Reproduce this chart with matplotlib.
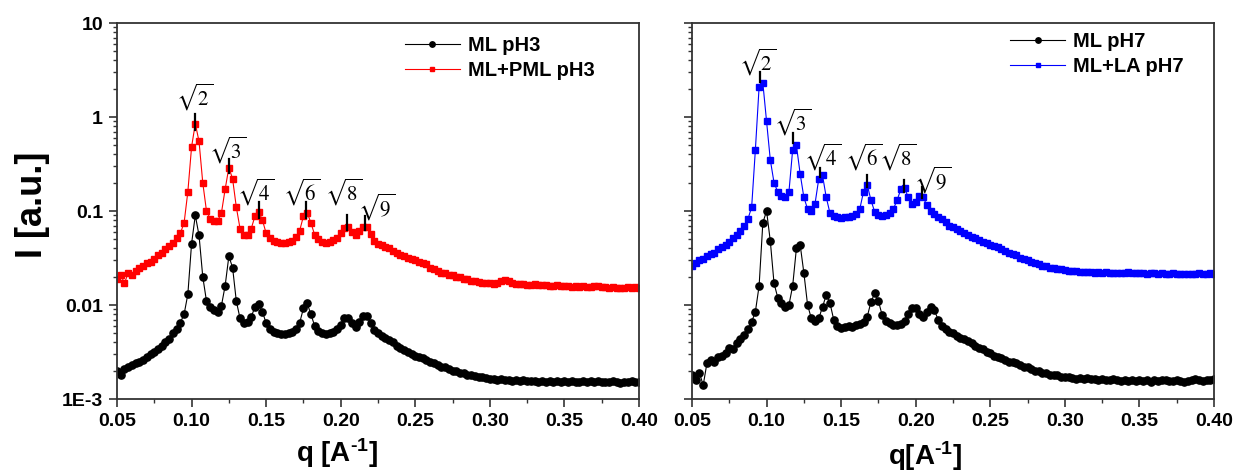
import numpy as np
import matplotlib
matplotlib.use("Agg")
import matplotlib.pyplot as plt
from matplotlib.ticker import FixedLocator, LogLocator, NullFormatter, MultipleLocator, FuncFormatter

plt.rcParams['font.family'] = ['Liberation Sans', 'DejaVu Sans']
plt.rcParams['font.weight'] = 'normal'
plt.rcParams['mathtext.fontset'] = 'custom'
plt.rcParams['mathtext.rm'] = 'Liberation Sans:bold'
plt.rcParams['mathtext.bf'] = 'Liberation Sans:bold'
plt.rcParams['mathtext.it'] = 'Liberation Sans:bold:italic'
plt.rcParams['mathtext.sf'] = 'Liberation Sans:bold'

# ---------------- data ----------------
q_start, q_step = 0.05, 0.0025

ml_ph3 = [
    0.0020, 0.0018, 0.0021, 0.0022, 0.0023, 0.0024, 0.0025, 0.0026, 0.0028, 0.0030,
    0.0032, 0.0034, 0.0037, 0.0040, 0.0044, 0.0050, 0.0056, 0.0065, 0.0080, 0.0130,
    0.045, 0.090, 0.055, 0.020, 0.0110, 0.0095, 0.0088, 0.0085, 0.0098, 0.016,
    0.033, 0.025, 0.011, 0.0072, 0.0064, 0.0066, 0.0075, 0.0095, 0.0102, 0.0085,
    0.0064, 0.0056, 0.0052, 0.0050, 0.0049, 0.0049, 0.0050, 0.0051, 0.0056, 0.0065,
    0.0092, 0.0104, 0.0080, 0.0060, 0.0053, 0.0050, 0.0049, 0.0050, 0.0052, 0.0055,
    0.0062, 0.0072, 0.0073, 0.0064, 0.0059, 0.0066, 0.0077, 0.0076, 0.0064, 0.0054,
    0.0050, 0.0047, 0.0045, 0.0042, 0.0040, 0.0037, 0.0035, 0.0033, 0.0032, 0.0030,
    0.0029, 0.0028, 0.0027, 0.0026, 0.0025, 0.0024, 0.0023, 0.0022, 0.0022, 0.0021,
    0.0020, 0.0020, 0.0019, 0.0019, 0.0018, 0.0018, 0.00175, 0.0017, 0.0017, 0.00168,
    0.00165,
    0.00163, 0.00160, 0.00162, 0.00158, 0.00160, 0.00157, 0.00159, 0.00155, 0.00158, 0.00156,
    0.00154, 0.00157, 0.00153, 0.00156, 0.00152, 0.00155, 0.00153, 0.00156, 0.00150, 0.00154,
    0.00152, 0.00155, 0.00151, 0.00153, 0.00155, 0.00150, 0.00154, 0.00152, 0.00156, 0.00151,
    0.00153, 0.00150, 0.00154, 0.00152, 0.00149, 0.00153, 0.00151, 0.00155, 0.00150, 0.00152,
]

ml_pml_ph3 = [
    0.019, 0.021, 0.017, 0.022, 0.021, 0.023, 0.025, 0.026, 0.028, 0.029,
    0.031, 0.034, 0.036, 0.039, 0.042, 0.046, 0.051, 0.058, 0.075, 0.16,
    0.48, 0.85, 0.55, 0.20, 0.100, 0.083, 0.078, 0.079, 0.095, 0.17,
    0.29, 0.22, 0.11, 0.065, 0.055, 0.056, 0.065, 0.088, 0.098, 0.080,
    0.058, 0.051, 0.048, 0.047, 0.046, 0.046, 0.047, 0.048, 0.053, 0.062,
    0.088, 0.096, 0.075, 0.056, 0.050, 0.047, 0.046, 0.047, 0.049, 0.052,
    0.058, 0.066, 0.068, 0.060, 0.056, 0.061, 0.068, 0.067, 0.057, 0.048,
    0.045, 0.043, 0.041, 0.040, 0.038, 0.036, 0.034, 0.033, 0.032, 0.031,
    0.030, 0.029, 0.028, 0.027, 0.025, 0.024, 0.023, 0.022, 0.022, 0.021,
    0.021, 0.020, 0.020, 0.019, 0.019, 0.018, 0.018, 0.0175, 0.0172, 0.017,
    0.017,
    0.0169, 0.0172, 0.0180, 0.0185, 0.0178, 0.0170, 0.0168, 0.0166, 0.0167, 0.0165,
    0.0164, 0.0166, 0.0163, 0.0162, 0.0164, 0.0161, 0.0160, 0.0162, 0.0159, 0.0158,
    0.0160, 0.0157, 0.0158, 0.0156, 0.0159, 0.0157, 0.0155, 0.0158, 0.0160, 0.0156,
    0.0154, 0.0152, 0.0155, 0.0150, 0.0153, 0.0151, 0.0154, 0.0152, 0.0155, 0.0153,
]

ml_ph7 = [
    0.0018, 0.0016, 0.0019, 0.0014, 0.0024, 0.0026, 0.0025, 0.0028, 0.0029, 0.0031,
    0.0035, 0.0034, 0.0039, 0.0043, 0.0048, 0.0055, 0.0066, 0.0085, 0.016, 0.075,
    0.100, 0.048, 0.017, 0.0120, 0.0105, 0.0096, 0.0100, 0.016, 0.040, 0.044,
    0.022, 0.0100, 0.0072, 0.0068, 0.0072, 0.0095, 0.0128, 0.0105, 0.0070, 0.0060,
    0.0057, 0.0058, 0.0060, 0.0059, 0.0062, 0.0063, 0.0066, 0.0075, 0.0108, 0.0133,
    0.0110, 0.0078, 0.0068, 0.0064, 0.0061, 0.0061, 0.0063, 0.0068, 0.0080, 0.0093,
    0.0092, 0.0080, 0.0074, 0.0085, 0.0095, 0.0088, 0.0070, 0.0060, 0.0056, 0.0052,
    0.0050, 0.0047, 0.0045, 0.0043, 0.0041, 0.0039, 0.0037, 0.0035, 0.0034, 0.0032,
    0.0031, 0.0029, 0.0028, 0.0027, 0.0026, 0.0025, 0.0025, 0.0024, 0.0023, 0.0022,
    0.0022, 0.0021, 0.0020, 0.0020, 0.0019, 0.0019, 0.0018, 0.0018, 0.0018, 0.0017,
    0.0017,
    0.00170, 0.00168, 0.00165, 0.00167, 0.00164, 0.00166, 0.00162, 0.00165, 0.00160, 0.00163,
    0.00161, 0.00159, 0.00162, 0.00158, 0.00155, 0.00160, 0.00157, 0.00161, 0.00156, 0.00159,
    0.00157, 0.00160, 0.00152, 0.00158, 0.00156, 0.00159, 0.00161, 0.00157, 0.00155, 0.00158,
    0.00154, 0.00152, 0.00157, 0.00159, 0.00163, 0.00158, 0.00155, 0.00160, 0.00158, 0.00162,
]

ml_la_ph7 = [
    0.026, 0.028, 0.030, 0.031, 0.033, 0.035, 0.036, 0.039, 0.041, 0.044,
    0.047, 0.051, 0.056, 0.062, 0.070, 0.082, 0.11, 0.45, 2.1, 2.3,
    0.9, 0.35, 0.20, 0.16, 0.145, 0.14, 0.16, 0.45, 0.50, 0.25,
    0.14, 0.105, 0.10, 0.12, 0.22, 0.24, 0.14, 0.095, 0.088, 0.086,
    0.085, 0.086, 0.086, 0.088, 0.092, 0.105, 0.16, 0.19, 0.13, 0.098,
    0.090, 0.088, 0.090, 0.095, 0.105, 0.13, 0.17, 0.175, 0.14, 0.12,
    0.125, 0.145, 0.14, 0.115, 0.100, 0.092, 0.087, 0.082, 0.076, 0.070,
    0.067, 0.064, 0.061, 0.058, 0.056, 0.053, 0.051, 0.049, 0.047, 0.046,
    0.044, 0.042, 0.041, 0.039, 0.038, 0.036, 0.035, 0.034, 0.032, 0.031,
    0.030, 0.029, 0.028, 0.027, 0.026, 0.026, 0.025, 0.025, 0.024, 0.024,
    0.0235,
    0.0232, 0.0230, 0.0228, 0.0226, 0.0227, 0.0223, 0.0225, 0.0221, 0.0222, 0.0220,
    0.0222, 0.0219, 0.0221, 0.0218, 0.0220, 0.0219, 0.0222, 0.0218, 0.0217, 0.0220,
    0.0218, 0.0216, 0.0219, 0.0217, 0.0215, 0.0218, 0.0216, 0.0214, 0.0217, 0.0215,
    0.0213, 0.0216, 0.0214, 0.0212, 0.0215, 0.0217, 0.0213, 0.0215, 0.0218, 0.0214,
]

# peak annotations: label, tick q, tick bottom, tick top, text q, text y
ann_labels = ['2', '3', '4', '6', '8', '9']
left_tick_q = [0.102, 0.125, 0.145, 0.177, 0.204, 0.216]
left_tick_lo = [0.73, 0.254, 0.084, 0.084, 0.063, 0.063]
left_tick_hi = [1.08, 0.357, 0.125, 0.125, 0.091, 0.088]
left_text_q = [0.1023, 0.1244, 0.1426, 0.174, 0.2016, 0.2237]
left_text_y = [1.63, 0.445, 0.158, 0.158, 0.158, 0.108]

right_tick_q = [0.0956, 0.1178, 0.136, 0.1674, 0.192, 0.2043]
right_tick_lo = [2.35, 0.53, 0.23, 0.18, 0.158, 0.138]
right_tick_hi = [3.01, 0.676, 0.29, 0.24, 0.214, 0.18]
right_text_q = [0.0936, 0.1177, 0.1372, 0.1647, 0.188, 0.211]
right_text_y = [3.85, 0.885, 0.375, 0.375, 0.375, 0.21]

yticks = [1e-3, 1e-2, 1e-1, 1, 10]
yticklabels = ['1E-3', '0.01', '0.1', '1', '10']
xticks = [0.05, 0.10, 0.15, 0.20, 0.25, 0.30, 0.35, 0.40]

# ---------------- figure ----------------
W, H = 1239, 473
fig = plt.figure(figsize=(W / 100, H / 100), dpi=100)
axL = fig.add_axes([117 / W, (H - 399) / H, 522 / W, 376 / H])
axR = fig.add_axes([692 / W, (H - 399) / H, 522 / W, 376 / H])


def qgrid(vals):
    return q_start + q_step * np.arange(len(vals))


def style(ax, show_labels):
    ax.set_yscale('log')
    ax.set_xlim(0.05, 0.40)
    ax.set_ylim(1e-3, 10)
    ax.xaxis.set_major_locator(FixedLocator(xticks))
    ax.xaxis.set_minor_locator(MultipleLocator(0.025))
    ax.xaxis.set_major_formatter(FuncFormatter(lambda v, p: f'{v:.2f}'))
    ax.yaxis.set_major_locator(FixedLocator(yticks))
    ax.yaxis.set_minor_locator(LogLocator(base=10, subs=np.arange(2, 10), numticks=20))
    ax.yaxis.set_minor_formatter(NullFormatter())
    if show_labels:
        ax.set_yticklabels(yticklabels)
    else:
        ax.set_yticklabels([])
    ax.tick_params(which='major', direction='out', length=6, width=1.2,
                   labelsize=14, pad=4, top=False, right=False, color='#333333')
    ax.tick_params(which='minor', direction='out', length=3, width=1.0,
                   top=False, right=False, color='#333333')
    for lab in ax.get_xticklabels() + ax.get_yticklabels():
        lab.set_fontweight('bold')
    for s in ax.spines.values():
        s.set_linewidth(1.3)
        s.set_color('#333333')


style(axL, True)
style(axR, False)

axL.plot(qgrid(ml_ph3), ml_ph3, '-o', color='black', lw=0.8, ms=5.2,
         mec='black', mfc='black', label='ML pH3')
axL.plot(qgrid(ml_pml_ph3), ml_pml_ph3, '-s', color='#ff0000', lw=0.8, ms=4.8,
         mec='#ff0000', mfc='#ff0000', label='ML+PML pH3')
axR.plot(qgrid(ml_ph7), ml_ph7, '-o', color='black', lw=0.8, ms=5.2,
         mec='black', mfc='black', label='ML pH7')
axR.plot(qgrid(ml_la_ph7), ml_la_ph7, '-s', color='#0000ff', lw=0.8, ms=4.8,
         mec='#0000ff', mfc='#0000ff', label='ML+LA pH7')


def annotate(ax, tq, lo, hi, txq, txy):
    for lab, a, b, c, d, e in zip(ann_labels, tq, lo, hi, txq, txy):
        ax.plot([a, a], [b, c], color='black', lw=1.6, zorder=5)
        ax.text(d, e, r'$\sqrt{' + lab + '}$', ha='center', va='center',
                fontsize=15, math_fontfamily='stix', fontweight='normal', zorder=6)


annotate(axL, left_tick_q, left_tick_lo, left_tick_hi, left_text_q, left_text_y)
annotate(axR, right_tick_q, right_tick_lo, right_tick_hi, right_text_q, right_text_y)

for ax, bx, by in [(axL, 0.552, 0.965), (axR, 0.610, 0.975)]:
    ax.legend(loc='upper left', bbox_to_anchor=(bx, by), frameon=False,
              borderpad=0, borderaxespad=0, handlelength=2.7, handletextpad=0.4,
              labelspacing=0.3, markerscale=0.75,
              prop={'weight': 'bold', 'size': 14.5})

fig.text(32 / W, (H - 205) / H, 'I [a.u.]', rotation=90, ha='center', va='center',
         fontsize=26, fontweight='bold')
fig.text(337 / W, (H - 462) / H, r'q [A$^{\text{-1}}$]', ha='center', va='baseline',
         fontsize=20, fontweight='bold')
fig.text(925 / W, (H - 465) / H, r'q[A$^{\text{-1}}$]', ha='center', va='baseline',
         fontsize=20, fontweight='bold')

fig.savefig('out.png', dpi=100, facecolor='white')
